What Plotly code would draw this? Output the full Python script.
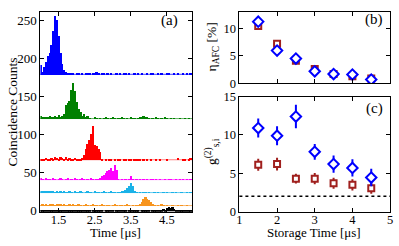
import numpy as np
import plotly.graph_objects as go

# ---------------- data ----------------
# (a) histograms: 84 bins of 0.05 us starting at 1.0 us
bin_start = 1.0
bin_width = 0.05
time_range = [1.0, 5.2]

counts_blue = [12, 4, 10, 16, 24, 28, 39, 57, 77, 72, 50, 28,
               14, 6, 4, 2, 2, 1, 1, 0, 2, 1, 0, 1,
               0, 2, 1, 1, 0, 2, 1, 3, 1, 0, 2, 1,
               0, 1, 0, 1, 0, 0, 1, 0, 1, 0, 1, 1,
               0, 1, 0, 0, 1, 0, 1, 0, 1, 0, 0, 1,
               0, 1, 1, 0, 0, 1, 0, 1, 0, 0, 1, 1,
               0, 0, 1, 0, 1, 0, 0, 1, 0, 1, 0, 1]
counts_green = [4, 3, 3, 2, 3, 4, 3, 2, 4, 3, 5, 3,
                4, 6, 18, 21, 24, 38, 47, 36, 22, 13, 9, 4,
                6, 2, 4, 1, 0, 0, 2, 1, 0, 1, 0, 1,
                2, 1, 0, 1, 2, 1, 0, 1, 1, 2, 1, 0,
                1, 0, 2, 1, 1, 0, 1, 2, 3, 4, 3, 2,
                1, 0, 1, 0, 2, 1, 0, 1, 0, 2, 1, 0,
                1, 0, 1, 0, 0, 1, 0, 0, 1, 0, 1, 0]
counts_red = [1, 2, 1, 3, 2, 1, 3, 2, 4, 3, 2, 4,
              3, 2, 4, 2, 3, 1, 2, 3, 2, 1, 2, 3,
              7, 14, 21, 26, 34, 45, 20, 18, 15, 10, 1, 0,
              1, 0, 2, 1, 0, 1, 0, 2, 1, 0, 1, 1,
              0, 2, 1, 0, 1, 1, 2, 1, 0, 1, 0, 1,
              0, 1, 0, 0, 1, 0, 1, 0, 0, 0, 1, 0,
              0, 0, 0, 0, 3, 0, 0, 2, 1, 0, 1, 3]
counts_magenta = [2, 1, 0, 2, 1, 1, 0, 2, 1, 0, 1, 2,
                  1, 0, 1, 2, 0, 1, 0, 2, 1, 0, 1, 2,
                  1, 0, 1, 0, 2, 1, 0, 1, 1, 3, 5, 7,
                  9, 11, 13, 15, 11, 20, 13, 1, 0, 1, 0, 1,
                  0, 1, 5, 1, 0, 1, 0, 1, 0, 1, 0, 1,
                  0, 1, 1, 0, 1, 0, 1, 0, 0, 1, 0, 1,
                  1, 0, 0, 1, 0, 1, 0, 1, 0, 1, 0, 1]
counts_cyan = [2, 3, 2, 3, 3, 2, 3, 2, 1, 2, 1, 2,
               1, 2, 1, 1, 2, 1, 0, 2, 1, 1, 2, 1,
               0, 1, 2, 1, 1, 0, 2, 1, 1, 0, 1, 2,
               1, 0, 1, 2, 1, 1, 0, 1, 1, 2, 2, 4,
               6, 9, 13, 9, 3, 1, 0, 1, 0, 1, 1, 0,
               1, 0, 0, 1, 0, 1, 0, 0, 1, 0, 1, 0,
               0, 1, 0, 1, 0, 0, 1, 0, 0, 1, 0, 1]
counts_orange = [1, 2, 1, 2, 1, 2, 3, 2, 1, 2, 3, 2,
                 1, 2, 1, 1, 2, 1, 2, 1, 1, 2, 1, 0,
                 1, 2, 1, 0, 1, 2, 1, 1, 0, 1, 2, 1,
                 0, 1, 1, 0, 1, 2, 1, 0, 1, 1, 0, 1,
                 2, 1, 0, 1, 0, 1, 1, 2, 5, 9, 12, 9,
                 7, 5, 3, 1, 0, 1, 0, 2, 1, 0, 1, 0,
                 0, 1, 0, 0, 1, 0, 1, 0, 0, 1, 0, 0]
counts_black = [2, 2, 1, 2, 2, 1, 2, 1, 2, 2, 1, 1,
                2, 1, 1, 2, 1, 1, 2, 1, 1, 2, 1, 1,
                1, 2, 1, 1, 0, 1, 1, 2, 1, 1, 1, 0,
                1, 1, 2, 1, 1, 0, 1, 1, 2, 1, 1, 1,
                0, 1, 1, 1, 2, 1, 1, 0, 1, 1, 2, 1,
                1, 0, 1, 1, 2, 1, 1, 2, 3, 2, 4, 6,
                4, 5, 3, 2, 1, 1, 2, 1, 1, 2, 1, 1]

hist_offsets = [179, 121, 67, 41, 24, 7, 0]

# (b),(c) storage-time data
storage_time = [1.5, 2.0, 2.5, 3.0, 3.5, 4.0, 4.5]
eta_red = [10.4, 7.2, 4.1, 2.6, 1.7, 1.3, 0.9]
eta_blue = [11.2, 5.95, 4.5, 2.2, 1.7, 1.6, 0.7]
g2_red = [6.1, 6.2, 4.3, 4.3, 3.7, 3.5, 3.05]
g2_red_err = [0.65, 0.7, 0.5, 0.6, 0.6, 0.6, 0.6]
g2_blue = [10.9, 9.9, 12.4, 7.8, 6.2, 5.7, 4.45]
g2_blue_err = [1.1, 1.1, 1.4, 0.9, 1.0, 1.0, 1.0]
classical_bound = 2

# ---------------- styling ----------------
hist_series = [counts_blue, counts_green, counts_red, counts_magenta,
               counts_cyan, counts_orange, counts_black]
hist_colors = ["#0000FF", "#008000", "#FF0000", "#FF00FF",
               "#1AB2E8", "#F7941D", "#000000"]
base_colors = ["#4040FF", "#66B366", "#FF8080", "#FF66FF",
               "#66CCF0", "#F9B872", "#000000"]
RED = "#A0201E"
BLUE = "#0000FF"
FONT = "Liberation Serif"

centers = bin_start + bin_width * (np.arange(len(counts_blue)) + 0.5)

fig = go.Figure()
shapes = []
for vals, off, col, bcol in zip(hist_series, hist_offsets, hist_colors, base_colors):
    fig.add_trace(go.Bar(x=centers, y=vals, base=off, width=bin_width,
                         marker=dict(color=col, line=dict(width=0)),
                         showlegend=False, xaxis="x", yaxis="y"))
    shapes.append(dict(type="line", xref="x domain", yref="y", x0=0, x1=1,
                       y0=off, y1=off, line=dict(color=bcol, width=1),
                       layer="below"))

# (b)
fig.add_trace(go.Scatter(x=storage_time, y=eta_red, mode="markers",
                         marker=dict(symbol="square", size=6, color="white",
                                     line=dict(color=RED, width=2)),
                         showlegend=False, xaxis="x2", yaxis="y2"))
fig.add_trace(go.Scatter(x=storage_time, y=eta_blue, mode="markers",
                         marker=dict(symbol="diamond", size=8, color="white",
                                     line=dict(color=BLUE, width=2)),
                         showlegend=False, xaxis="x2", yaxis="y2"))
# (c)
fig.add_trace(go.Scatter(x=storage_time, y=g2_red, mode="markers",
                         error_y=dict(type="data", array=g2_red_err, color=RED,
                                      thickness=2, width=1),
                         marker=dict(symbol="square", size=6, color="white",
                                     line=dict(color=RED, width=2)),
                         showlegend=False, xaxis="x3", yaxis="y3"))
fig.add_trace(go.Scatter(x=storage_time, y=g2_blue, mode="markers",
                         error_y=dict(type="data", array=g2_blue_err, color=BLUE,
                                      thickness=2, width=1),
                         marker=dict(symbol="diamond", size=8, color="white",
                                     line=dict(color=BLUE, width=2)),
                         showlegend=False, xaxis="x3", yaxis="y3"))
shapes.append(dict(type="line", xref="x3 domain", yref="y3", x0=0, x1=1,
                   y0=classical_bound, y1=classical_bound,
                   line=dict(color="black", width=1.5, dash="dot")))

axis_common = dict(showline=True, linecolor="black", linewidth=1, mirror="ticks",
                   ticks="inside", ticklen=4, tickcolor="black", showgrid=False,
                   zeroline=False, ticklabeloverflow="allow",
                   tickfont=dict(family=FONT, size=13, color="black"))
rt_common = dict(axis_common)
rt_common["tickfont"] = dict(family=FONT, size=12.5, color="black")
bx_common = dict(axis_common)
bx_common["tickfont"] = dict(family=FONT, size=12.5, color="black")

tfont = dict(family=FONT, size=13.5, color="black")
xtfont = dict(family=FONT, size=13, color="black")

LX = [38 / 399, 192 / 399]
RX = [240 / 399, 393 / 399]
W, H = 399, 246


def px(x):
    return x / W


def py(y):
    return 1 - y / H


def label(text, x, y, angle=0, font=tfont):
    return dict(text=text, xref="paper", yref="paper", x=px(x), y=py(y),
                xanchor="center", yanchor="middle", textangle=angle,
                showarrow=False, font=font)


pfont = dict(family=FONT, size=15, color="black")

fig.update_layout(
    width=W, height=H,
    margin=dict(l=0, r=0, t=0, b=0),
    paper_bgcolor="white", plot_bgcolor="white",
    bargap=0, barmode="overlay",
    font=dict(family=FONT, size=13, color="black"),
    xaxis=dict(domain=LX, anchor="y", range=time_range,
               tickvals=[1.5, 2.5, 3.5, 4.5], ticktext=["1.5", "2.5", "3.5", "4.5"],
               ticklabelstandoff=-4, **bx_common),
    yaxis=dict(domain=[29 / 246, 241 / 246], anchor="x", range=[-1, 261],
               tickvals=[0, 50, 100, 150, 200, 250], **axis_common),
    xaxis2=dict(domain=RX, anchor="y2", range=[1, 5], tickvals=[1, 2, 3, 4, 5],
                showticklabels=False, **axis_common),
    yaxis2=dict(domain=[165 / 246, 241 / 246], anchor="x2", range=[0, 13],
                tickvals=[0, 5, 10], **rt_common),
    xaxis3=dict(domain=RX, anchor="y3", range=[1, 5], tickvals=[1, 2, 3, 4, 5],
                ticklabelstandoff=-4, **bx_common),
    yaxis3=dict(domain=[29 / 246, 151 / 246], anchor="x3", range=[0, 15],
                tickvals=[0, 5, 10, 15], **rt_common),
    shapes=shapes,
    annotations=[
        label("Coincidence Counts", 10, 111, -90),
        label("Time [μs]", 114, 239.5, 0, xtfont),
        label("Storage Time [μs]", 316, 239.5, 0, xtfont),
        label("η<sub>AFC</sub> [%]", 213, 42, -90),
        label("g<sup>(2)</sup><sub>s,i</sub>", 212, 153, -90),
        label("(a)", 169, 14, 0, pfont),
        label("(b)", 377, 13, 0, pfont),
        label("(c)", 377, 108, 0, pfont),
    ],
)

fig.write_html("out.html", config={"displayModeBar": False},
               post_script="document.body.style.margin='0px';")
